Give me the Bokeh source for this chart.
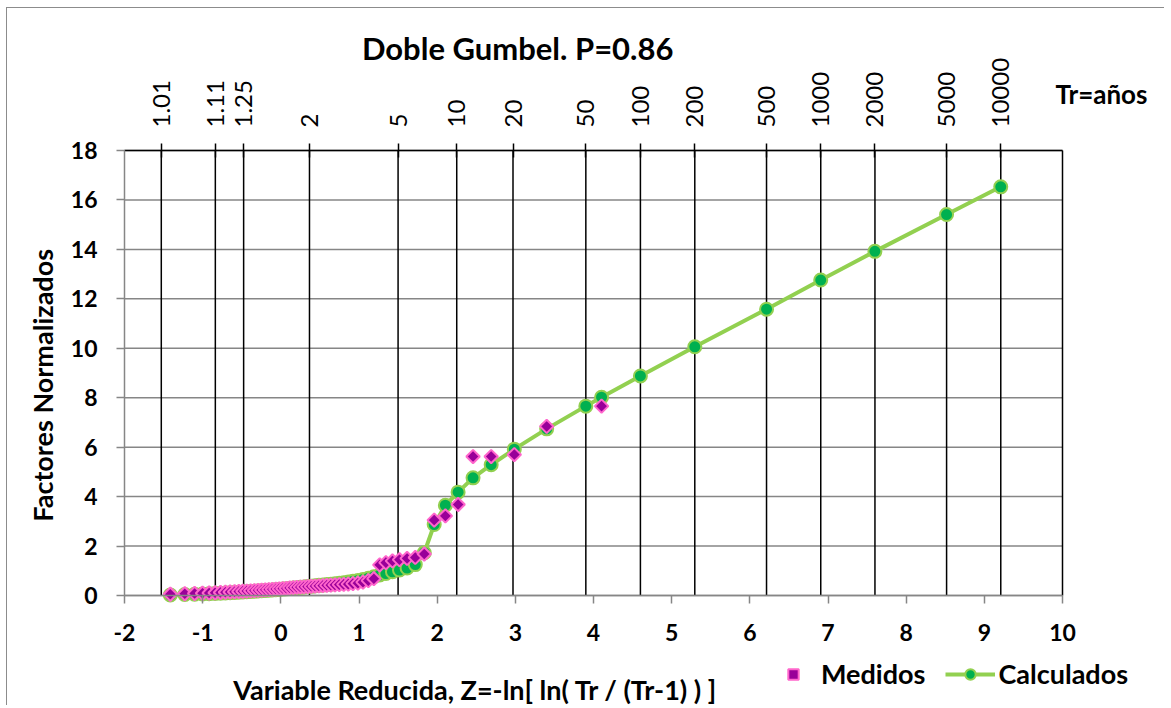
import math
from bokeh.plotting import figure
from bokeh.models import (Range1d, LinearAxis, FixedTicker, Label, Legend, LegendItem)
from bokeh.embed import file_html
from bokeh.resources import INLINE

# ---------------- data ----------------
TITLE = "Doble Gumbel. P=0.86"
X_LABEL = "Variable Reducida, Z=-ln[ ln( Tr / (Tr-1) ) ]"
Y_LABEL = "Factores Normalizados"
TR_TITLE = "Tr=años"

# return periods shown on the upper axis
TR_LABELS = ["1.01", "1.11", "1.25", "2", "5", "10", "20", "50", "100", "200",
             "500", "1000", "2000", "5000", "10000"]

# measured (reduced variable Z, normalised factor)
Z_MEAS = [-1.414, -1.229, -1.103, -1.002, -0.917, -0.841, -0.772, -0.709, -0.649, -0.592,
          -0.538, -0.486, -0.436, -0.386, -0.338, -0.291, -0.245, -0.199, -0.154, -0.109,
          -0.064, -0.020, 0.025, 0.070, 0.114, 0.159, 0.205, 0.250, 0.296, 0.343,
          0.390, 0.438, 0.487, 0.537, 0.588, 0.640, 0.693, 0.748, 0.805, 0.863,
          0.923, 0.986, 1.051, 1.119, 1.190, 1.265, 1.344, 1.428, 1.518, 1.615,
          1.720, 1.835, 1.962, 2.105, 2.268, 2.459, 2.691, 2.987, 3.401, 4.103]
Y_MEAS = [0.05, 0.07, 0.08, 0.09, 0.10, 0.11, 0.12, 0.13, 0.14, 0.15,
          0.16, 0.17, 0.18, 0.19, 0.20, 0.21, 0.22, 0.23, 0.24, 0.25,
          0.26, 0.27, 0.28, 0.29, 0.31, 0.32, 0.33, 0.34, 0.35, 0.36,
          0.37, 0.38, 0.39, 0.40, 0.41, 0.42, 0.43, 0.44, 0.45, 0.46,
          0.48, 0.50, 0.54, 0.60, 0.68, 1.24, 1.33, 1.40, 1.45, 1.50,
          1.54, 1.68, 3.05, 3.22, 3.68, 5.62, 5.62, 5.70, 6.84, 7.66]

# calculated (double Gumbel)
Z_CALC = [-1.414, -1.229, -1.103, -1.002, -0.917, -0.841, -0.772, -0.709, -0.649, -0.592,
          -0.538, -0.486, -0.436, -0.386, -0.338, -0.291, -0.245, -0.199, -0.154, -0.109,
          -0.064, -0.020, 0.025, 0.070, 0.114, 0.159, 0.205, 0.250, 0.296, 0.343,
          0.390, 0.438, 0.487, 0.537, 0.588, 0.640, 0.693, 0.748, 0.805, 0.863,
          0.923, 0.986, 1.051, 1.119, 1.190, 1.265, 1.344, 1.428, 1.518, 1.615,
          1.720, 1.835, 1.962, 2.105, 2.268, 2.459, 2.691, 2.987, 3.401, 3.902,
          4.103, 4.600, 5.296, 6.214, 6.907, 7.600, 8.517, 9.210]
Y_CALC = [0.02, 0.04, 0.05, 0.06, 0.07, 0.08, 0.09, 0.10, 0.11, 0.12,
          0.13, 0.14, 0.15, 0.16, 0.17, 0.18, 0.19, 0.20, 0.21, 0.22,
          0.23, 0.24, 0.26, 0.27, 0.28, 0.30, 0.31, 0.33, 0.34, 0.36,
          0.37, 0.39, 0.41, 0.42, 0.44, 0.46, 0.48, 0.50, 0.52, 0.55,
          0.58, 0.61, 0.65, 0.70, 0.76, 0.83, 0.89, 0.96, 1.03, 1.11,
          1.25, 1.73, 2.87, 3.65, 4.18, 4.76, 5.29, 5.92, 6.74, 7.66,
          8.02, 8.88, 10.06, 11.58, 12.76, 13.92, 15.41, 16.53]

X_TICKS = [-2, -1, 0, 1, 2, 3, 4, 5, 6, 7, 8, 9, 10]
Y_TICKS = [0, 2, 4, 6, 8, 10, 12, 14, 16, 18]

# ---------------- layout ----------------
FONT = "Lato"
GRAY = "#868686"
MEAS_FILL, MEAS_LINE = "#990099", "#FF66CC"
CALC_FILL, CALC_LINE = "#00B050", "#92D050"
W, H = 1158, 698                 # canvas size
PLOT_L, PLOT_T = 117, 142        # plot-area offset inside the canvas (px)
PLOT_W, PLOT_H = 938, 445        # plot-area size (px)
XMIN, XMAX = X_TICKS[0], X_TICKS[-1]
YMIN, YMAX = Y_TICKS[0], Y_TICKS[-1]

# the frame covers the whole canvas; the plot area (Z -2..10, 0..18) sits inside it,
# so that every title and the legend stay inside the frame
ppx = PLOT_W / (XMAX - XMIN)
ppy = PLOT_H / (YMAX - YMIN)
x_start = XMIN - PLOT_L / ppx
y_end = YMAX + PLOT_T / ppy

p = figure(width=W, height=H, output_backend="svg", toolbar_location=None,
           x_range=Range1d(x_start, x_start + W / ppx),
           y_range=Range1d(y_end - H / ppy, y_end), title=None,
           x_axis_location=None, y_axis_location=None,
           min_border_left=0, min_border_right=0, min_border_top=0, min_border_bottom=0)
p.styles = {"margin-left": "6px", "margin-top": "7px",
            "border-left": "1px solid #8c8c8c", "border-top": "1px solid #8c8c8c"}
p.outline_line_color = None
p.background_fill_color = "white"
p.border_fill_color = "white"
p.xgrid.visible = False
p.ygrid.visible = False

# grid lines of the plot area
ny = len(Y_TICKS)
p.segment(x0=[XMIN] * ny, y0=Y_TICKS, x1=[XMAX] * ny, y1=Y_TICKS,
          line_color=GRAY, line_width=1.5, level="underlay")

# upper return-period axis (Z = -ln(ln(Tr/(Tr-1))))
tr_vals = [float(t) for t in TR_LABELS]
tr_z = [round(-math.log(math.log(t / (t - 1.0))), 6) for t in tr_vals]
nt = len(tr_z)
p.segment(x0=tr_z, y0=[YMIN] * nt, x1=tr_z, y1=[YMAX] * nt,
          line_color="black", line_width=1.5, level="underlay")
p.segment(x0=[XMAX], y0=[YMIN], x1=[XMAX], y1=[YMAX],
          line_color="black", line_width=1.5, level="underlay")

# axes
xa = LinearAxis(fixed_location=YMIN, bounds=(XMIN, XMAX),
                ticker=FixedTicker(ticks=X_TICKS),
                major_label_overrides={t: str(t) for t in X_TICKS},
                axis_line_color=GRAY, axis_line_width=1.5,
                major_tick_line_color=GRAY, major_tick_line_width=1.5,
                major_tick_in=0, major_tick_out=8, minor_tick_line_color=None,
                major_label_standoff=20, major_label_text_font=FONT,
                major_label_text_font_style="bold", major_label_text_font_size="23px",
                major_label_text_color="black")
p.add_layout(xa, "below")

ya = LinearAxis(fixed_location=XMIN, bounds=(YMIN, YMAX),
                ticker=FixedTicker(ticks=Y_TICKS),
                axis_line_color=GRAY, axis_line_width=1.5,
                major_tick_line_color=GRAY, major_tick_line_width=1.5,
                major_tick_in=0, major_tick_out=8, minor_tick_line_color=None,
                major_label_standoff=19, major_label_text_font=FONT,
                major_label_text_font_style="bold", major_label_text_font_size="23px",
                major_label_text_color="black")
p.add_layout(ya, "left")

top = LinearAxis(fixed_location=YMAX, bounds=(XMIN, XMAX),
                 ticker=FixedTicker(ticks=tr_z),
                 major_label_overrides={z: lab for z, lab in zip(tr_z, TR_LABELS)},
                 major_label_orientation="vertical",
                 axis_line_color="black", axis_line_width=1.5,
                 major_tick_line_color="black", major_tick_line_width=1.5,
                 major_tick_in=7, major_tick_out=7, minor_tick_line_color=None,
                 major_label_standoff=16, major_label_text_font=FONT,
                 major_label_text_font_size="24px", major_label_text_color="black")
p.add_layout(top, "above")

# series
ln = p.line(Z_CALC, Y_CALC, line_color=CALC_LINE, line_width=4)
cc = p.scatter(Z_CALC, Y_CALC, marker="circle", size=13, fill_color=CALC_FILL,
               line_color=CALC_LINE, line_width=2)
dm = p.scatter(Z_MEAS, Y_MEAS, marker="square", angle=math.pi / 4, size=9.5,
               fill_color=MEAS_FILL, line_color=MEAS_LINE, line_width=2)

legend = Legend(items=[LegendItem(label="Medidos", renderers=[dm]),
                       LegendItem(label="Calculados", renderers=[ln, cc])],
                orientation="horizontal", location=(761, 16),
                glyph_width=50, glyph_height=26, label_standoff=3, spacing=20,
                padding=0, margin=0, border_line_alpha=0, background_fill_alpha=0,
                label_text_font=FONT, label_text_font_style="bold",
                label_text_font_size="27px", label_text_color="black")
p.add_layout(legend, "center")

# texts
p.add_layout(Label(x=3.03, y=YMAX, y_offset=103, text=TITLE, text_align="center",
                   text_baseline="middle", text_font=FONT, text_font_style="bold",
                   text_font_size="31px", text_color="black"))
p.add_layout(Label(x=XMAX, y=YMAX, x_offset=-7, y_offset=57, text=TR_TITLE,
                   text_align="left", text_baseline="middle", text_font=FONT,
                   text_font_style="bold", text_font_size="26px", text_color="black"))
p.add_layout(Label(x=XMIN, y=8.5, x_offset=-82, angle=math.pi / 2, text=Y_LABEL,
                   text_align="center", text_baseline="middle", text_font=FONT,
                   text_font_style="bold", text_font_size="27px", text_color="black"))
p.add_layout(Label(x=2.49, y=YMIN, y_offset=-94, text=X_LABEL, text_align="center",
                   text_baseline="middle", text_font=FONT, text_font_style="bold",
                   text_font_size="27px", text_color="black"))

open("out.html", "w").write(file_html(p, INLINE))
